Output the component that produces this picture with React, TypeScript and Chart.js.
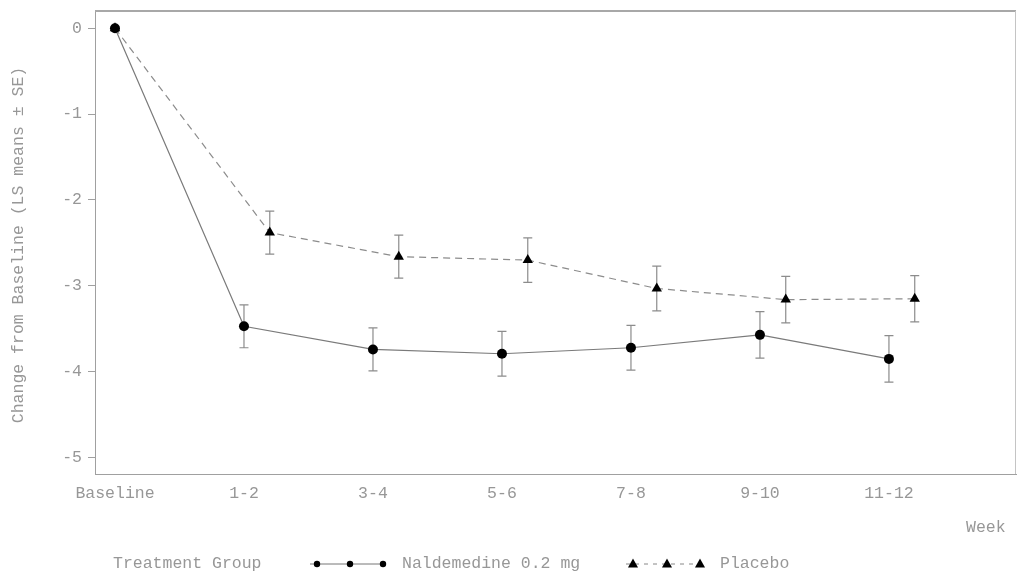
import React, { useEffect, useRef } from "react";
import { Chart, registerables } from "chart.js";

Chart.register(...registerables);

// Visit windows (weeks)
const weekLabels = ["Baseline", "1-2", "3-4", "5-6", "7-8", "9-10", "11-12"];
// LS mean change from baseline and standard errors
const naldemedineMean = [0, -3.47, -3.74, -3.79, -3.72, -3.57, -3.85];
const naldemedineSE = [0, 0.25, 0.25, 0.26, 0.26, 0.27, 0.27];
const placeboMean = [0, -2.38, -2.66, -2.7, -3.03, -3.16, -3.15];
const placeboSE = [0, 0.25, 0.25, 0.26, 0.26, 0.27, 0.27];
const yTicks = [0, -1, -2, -3, -4, -5];

// Placebo points are nudged right of each visit so the bars don't overlap
const PLACEBO_SHIFT = 0.2;

const FAMILY = '"Liberation Mono", "Courier New", monospace';
const FONT = `16.5px ${FAMILY}`;
const TEXT = "#979797";
const AXIS = "#a0a0a0";

const seByDataset = [naldemedineSE, placeboSE];

const extrasPlugin = {
  id: "extras",
  beforeDatasetsDraw(chart: any) {
    const { ctx, scales } = chart;
    ctx.save();
    ctx.strokeStyle = "#8c8c8c";
    ctx.lineWidth = 1.2;
    chart.data.datasets.forEach((ds: any, di: number) => {
      const se = seByDataset[di];
      ds.data.forEach((p: any, i: number) => {
        if (!se[i]) return;
        const x = scales.x.getPixelForValue(p.x);
        const yt = scales.y.getPixelForValue(p.y + se[i]);
        const yb = scales.y.getPixelForValue(p.y - se[i]);
        ctx.beginPath();
        ctx.moveTo(x, yt);
        ctx.lineTo(x, yb);
        ctx.moveTo(x - 4.5, yt);
        ctx.lineTo(x + 4.5, yt);
        ctx.moveTo(x - 4.5, yb);
        ctx.lineTo(x + 4.5, yb);
        ctx.stroke();
      });
    });
    ctx.restore();
  },
  afterDraw(chart: any) {
    const { ctx, chartArea } = chart;
    ctx.save();
    // frame: heavier top rule, thin right edge
    ctx.strokeStyle = "#a8a8a8";
    ctx.lineWidth = 2;
    ctx.beginPath();
    ctx.moveTo(chartArea.left, chartArea.top);
    ctx.lineTo(chartArea.right, chartArea.top);
    ctx.stroke();
    ctx.lineWidth = 1;
    ctx.strokeStyle = "#c4c4c4";
    ctx.beginPath();
    ctx.moveTo(chartArea.right - 0.5, chartArea.top);
    ctx.lineTo(chartArea.right - 0.5, chartArea.bottom);
    ctx.stroke();

    ctx.font = FONT;
    ctx.fillStyle = TEXT;
    ctx.textBaseline = "middle";

    // y-axis title
    ctx.save();
    ctx.translate(19, 245);
    ctx.rotate(-Math.PI / 2);
    ctx.textAlign = "center";
    ctx.fillText("Change from Baseline (LS means \u00b1 SE)", 0, 0);
    ctx.restore();

    // x-axis title
    ctx.textAlign = "left";
    ctx.fillText("Week", 966, 528);

    // legend
    const ly = 564;
    ctx.fillText("Treatment Group", 113, ly);

    ctx.strokeStyle = "#777";
    ctx.lineWidth = 1;
    ctx.beginPath();
    ctx.moveTo(310, ly);
    ctx.lineTo(386, ly);
    ctx.stroke();
    ctx.fillStyle = "#000";
    [317, 350, 383].forEach((cx) => {
      ctx.beginPath();
      ctx.arc(cx, ly, 3.2, 0, Math.PI * 2);
      ctx.fill();
    });
    ctx.fillStyle = TEXT;
    ctx.fillText("Naldemedine 0.2 mg", 402, ly);

    ctx.strokeStyle = "#888";
    ctx.setLineDash([4, 5]);
    ctx.beginPath();
    ctx.moveTo(626, ly);
    ctx.lineTo(706, ly);
    ctx.stroke();
    ctx.setLineDash([]);
    ctx.fillStyle = "#000";
    [633, 667, 700].forEach((cx) => {
      ctx.beginPath();
      ctx.moveTo(cx, ly - 5.5);
      ctx.lineTo(cx + 5, ly + 3.5);
      ctx.lineTo(cx - 5, ly + 3.5);
      ctx.closePath();
      ctx.fill();
    });
    ctx.fillStyle = TEXT;
    ctx.fillText("Placebo", 720, ly);
    ctx.restore();
  },
};

export default function App() {
  const ref = useRef<HTMLCanvasElement>(null);

  useEffect(() => {
    if (!ref.current) return;
    const chart = new Chart(ref.current, {
      type: "line",
      data: {
        datasets: [
          {
            label: "Naldemedine 0.2 mg",
            data: naldemedineMean.map((v, i) => ({ x: i, y: v })),
            borderColor: "#7a7a7a",
            borderWidth: 1.2,
            pointStyle: "circle",
            pointRadius: 5,
            pointBackgroundColor: "#000",
            pointBorderColor: "#000",
            pointBorderWidth: 0,
            tension: 0,
          },
          {
            label: "Placebo",
            data: placeboMean.map((v, i) => ({
              x: i === 0 ? i : i + PLACEBO_SHIFT,
              y: v,
            })),
            borderColor: "#8c8c8c",
            borderWidth: 1.2,
            borderDash: [7, 5],
            pointStyle: "triangle",
            pointRadius: 6,
            pointBackgroundColor: "#000",
            pointBorderColor: "#000",
            pointBorderWidth: 0,
            tension: 0,
          },
        ],
      },
      options: {
        animation: false,
        responsive: false,
        devicePixelRatio: 1,
        layout: {
          autoPadding: false,
          padding: { top: 11, right: 1, left: 0, bottom: 0 },
        },
        plugins: {
          legend: { display: false },
          tooltip: { enabled: false },
        },
        scales: {
          x: {
            type: "linear",
            min: -0.155,
            max: 6.985,
            afterBuildTicks: (scale: any) => {
              scale.ticks = weekLabels.map((_, i) => ({ value: i }));
            },
            afterFit: (scale: any) => {
              scale.height = 100;
              scale.paddingLeft = 0;
              scale.paddingRight = 0;
            },
            ticks: {
              autoSkip: false,
              maxRotation: 0,
              padding: 10,
              color: TEXT,
              font: { family: FAMILY, size: 16.5 },
              callback: (v: any) => weekLabels[v] ?? "",
            },
            grid: { display: false, drawTicks: false },
            border: { display: true, color: AXIS, width: 1 },
          },
          y: {
            type: "linear",
            min: -5.19,
            max: 0.2,
            afterBuildTicks: (scale: any) => {
              scale.ticks = yTicks.map((v) => ({ value: v }));
            },
            afterFit: (scale: any) => {
              scale.width = 95;
              scale.paddingTop = 0;
              scale.paddingBottom = 0;
            },
            ticks: {
              padding: 6,
              color: TEXT,
              font: { family: FAMILY, size: 16.5 },
              callback: (v: any) => String(v),
            },
            grid: {
              drawOnChartArea: false,
              drawTicks: true,
              tickLength: 7,
              color: AXIS,
            },
            border: { display: true, color: AXIS, width: 1 },
          },
        },
      },
      plugins: [extrasPlugin],
    });
    return () => chart.destroy();
  }, []);

  return (
    <div style={{ position: "absolute", left: 0, top: 0, width: 1017, height: 574, background: "#fff" }}>
      <canvas ref={ref} width={1017} height={574} />
    </div>
  );
}
